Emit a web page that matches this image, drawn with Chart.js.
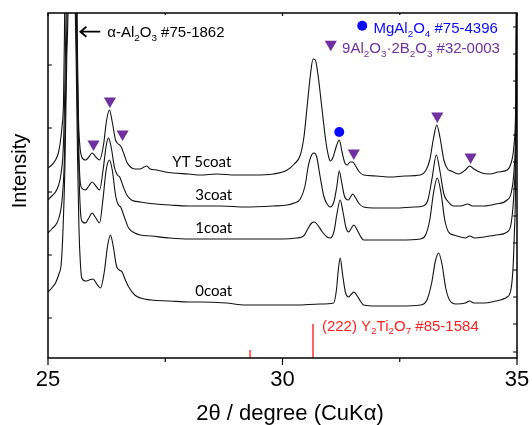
<!DOCTYPE html>
<html>
<head>
<meta charset="utf-8">
<script src="https://cdn.jsdelivr.net/npm/chart.js@4.4.1/dist/chart.umd.min.js"></script>
<style>
  html, body { margin: 0; padding: 0; background: #fff; }
  #wrap { width: 532px; height: 425px; }
</style>
</head>
<body>
<div id="wrap"><canvas id="xrd" width="532" height="425"></canvas></div>
<script>
// 2theta (deg) and stacked intensity (a.u.)
const tt5 = [25.00,25.08,25.16,25.22,25.26,25.30,25.33,25.35,25.37,25.50,25.61,25.63,25.65,25.68,25.72,25.80,25.87,25.94,26.02,26.10,26.18,26.25,26.31,26.37,26.44,26.50,26.55,26.62,26.68,26.76,26.85,26.96,27.05,27.10,27.18,27.32,27.50,27.67,28.00,28.25,28.60,29.00,29.40,29.80,30.10,30.25,30.38,30.46,30.53,30.60,30.65,30.70,30.76,30.84,30.92,30.98,31.02,31.08,31.15,31.21,31.27,31.33,31.38,31.44,31.50,31.56,31.64,31.73,32.00,32.30,32.60,32.94,33.05,33.14,33.22,33.29,33.36,33.44,33.52,33.60,33.75,33.90,33.99,34.08,34.25,34.43,34.60,34.79,34.88,34.94,34.98,35.00];
const yt5 = [190,193,198,205,215,232,255,320,420,1500,420,300,240,212,201,198,201,205,201,198,212,238,248,236,218,214,212,204,196,191,189,189,191,192,189,188,186,185,184,183,184,183,183,184,188,194,203,222,254,285,299,298,282,250,218,202,197,201,212,218,206,195,193,196,196,192,186,183,182,181,182,183,187,198,220,233,220,198,189,187,184,188,192,189,185,184,186,188,196,215,280,500];

const tt3 = [25.00,25.08,25.16,25.22,25.28,25.33,25.37,25.40,25.50,25.59,25.62,25.65,25.68,25.72,25.80,25.87,25.94,26.02,26.10,26.18,26.24,26.29,26.35,26.42,26.48,26.53,26.60,26.68,26.78,26.97,27.10,27.30,27.60,28.00,28.25,28.70,29.20,29.80,30.10,30.25,30.38,30.48,30.55,30.62,30.67,30.73,30.80,30.88,30.95,31.02,31.10,31.16,31.21,31.26,31.32,31.40,31.45,31.50,31.56,31.64,31.73,32.00,32.40,32.80,33.00,33.10,33.19,33.28,33.36,33.44,33.52,33.65,33.80,33.95,34.05,34.30,34.55,34.79,34.88,34.94,34.98,35.00];
const c3 = [158,162,166,172,185,215,300,420,1500,420,300,220,180,170,168,172,176,172,168,190,212,220,210,190,183,181,172,163,158,156,155,154,153,152,152,152,151,152,153,155,159,172,192,203,205,201,182,162,154,151,157,172,187,176,162,158,161,164,160,154,151,150,150,151,152,158,180,203,186,164,157,152,152,154,152,152,154,158,166,190,260,500];

const tt1 = [25.00,25.08,25.19,25.26,25.30,25.35,25.39,25.42,25.50,25.58,25.61,25.64,25.67,25.70,25.74,25.80,25.87,25.94,26.02,26.10,26.17,26.24,26.31,26.37,26.44,26.50,26.55,26.62,26.72,26.85,26.97,27.20,27.60,28.00,28.25,28.80,29.40,30.00,30.30,30.45,30.55,30.62,30.68,30.75,30.85,30.95,31.02,31.10,31.16,31.23,31.29,31.35,31.41,31.47,31.52,31.58,31.66,31.73,32.00,32.50,32.94,33.05,33.14,33.22,33.30,33.38,33.46,33.54,33.65,33.80,33.90,33.99,34.10,34.30,34.55,34.79,34.88,34.94,34.98,35.00];
const c1 = [125,129,135,145,158,200,300,420,1500,420,300,220,170,142,136,135,140,145,140,135,158,188,198,188,163,153,151,142,130,125,123,122,120,119,119,119,119,119,120,122,130,135,136,133,126,121,120,127,144,158,146,131,126,130,133,129,122,118,118,118,119,123,138,165,180,165,138,126,123,121,120,122,120,121,123,126,136,170,250,500];

const tt0 = [25.00,25.08,25.16,25.24,25.28,25.32,25.36,25.40,25.44,25.50,25.57,25.60,25.63,25.66,25.69,25.72,25.80,25.88,25.96,26.04,26.12,26.20,26.27,26.33,26.39,26.46,26.52,26.58,26.65,26.72,26.85,26.97,27.20,27.60,28.00,28.25,28.80,29.21,29.80,30.30,30.80,31.09,31.15,31.19,31.23,31.28,31.34,31.41,31.47,31.52,31.58,31.66,31.73,32.00,32.50,32.94,33.08,33.18,33.26,33.33,33.40,33.48,33.56,33.70,33.90,33.99,34.08,34.30,34.55,34.79,34.88,34.94,34.98,35.00];
const c0 = [66,70,75,85,93,128,190,300,420,1500,420,300,200,130,95,80,77,78,79,74,70,86,112,123,112,92,88,86,78,71,63,60,58,57,56,56,55,53,53,53,54,55,68,88,100,84,66,61,64,66,63,57,53,52,52,53,58,75,97,105,94,70,58,54,55,57,55,55,57,61,71,120,230,500];

const seriesNames = ['YT 5coat', '3coat', '1coat', '0coat'];

// phase markers
const boratePeaks = [25.97, 26.32, 26.59, 31.52, 33.30, 34.01];
const borateY     = [214, 257, 224, 205, 242, 201];
const spinelPeaks = [31.21];
const spinelY     = [226];

// Y2Ti2O7 reference sticks
const refPos = [29.31, 30.65];
const refInt = [8, 34];

// axis ticks
const xMajor = [25, 30, 35];
const xMinor = [27.5, 32.5];
const yLeftTicks  = [40, 103, 166, 230, 293];
const yRightTicks = [6, 34, 61, 88, 115, 142, 169, 196, 223, 250, 277, 304, 331];

const PURPLE = '#7030a0', BLUE = '#0a0aff', RED = '#ff2222', STICK = '#ff6464';
const ARIAL = "'Liberation Sans', Arial, sans-serif";
const LATO = "Lato, 'Liberation Sans', sans-serif";

const pairs = (xs, ys) => xs.map((x, i) => ({x: x, y: ys[i]}));

const curve = (xs, ys, name) => ({
  label: name,
  data: pairs(xs, ys),
  showLine: true,
  borderColor: '#111',
  borderWidth: 1.1,
  pointRadius: 0,
  cubicInterpolationMode: 'monotone'
});

const sticks = [];
refPos.forEach((p, i) => {
  sticks.push({x: p, y: 0}, {x: p, y: refInt[i]}, {x: p, y: null});
});

// rich text: parts starting with "_" are subscripts
function rich(ctx, x, y, parts, size, color) {
  ctx.fillStyle = color;
  ctx.textAlign = 'left';
  ctx.textBaseline = 'alphabetic';
  let cx = x;
  parts.forEach(p => {
    const sub = p[0] === '_';
    const t = sub ? p.slice(1) : p;
    ctx.font = (sub ? size * 0.66 : size) + 'px ' + ARIAL;
    ctx.fillText(t, cx, sub ? y + size * 0.24 : y);
    cx += ctx.measureText(t).width;
  });
}

function triangleDown(ctx, x, y, r, color) {
  ctx.fillStyle = color;
  ctx.beginPath();
  ctx.moveTo(x, y + r);
  ctx.lineTo(x - r * 0.866, y - r / 2);
  ctx.lineTo(x + r * 0.866, y - r / 2);
  ctx.closePath();
  ctx.fill();
}

const decor = {
  id: 'decor',
  afterDraw(chart) {
    const ctx = chart.ctx;
    const a = chart.chartArea;
    const xs = chart.scales.x, ys = chart.scales.y;
    const X = v => xs.getPixelForValue(v), Y = v => ys.getPixelForValue(v);
    ctx.save();

    // frame
    ctx.strokeStyle = '#000';
    ctx.lineWidth = 1.5;
    ctx.strokeRect(a.left, a.top, a.right - a.left, a.bottom - a.top);

    // ticks
    ctx.lineWidth = 1.2;
    ctx.beginPath();
    xMajor.forEach(v => {
      ctx.moveTo(X(v), a.bottom); ctx.lineTo(X(v), a.bottom + 7);
      ctx.moveTo(X(v), a.top); ctx.lineTo(X(v), a.top + 3);
    });
    xMinor.forEach(v => {
      ctx.moveTo(X(v), a.bottom); ctx.lineTo(X(v), a.bottom + 4);
      ctx.moveTo(X(v), a.top); ctx.lineTo(X(v), a.top + 2);
    });
    yLeftTicks.forEach(v => { ctx.moveTo(a.left, Y(v)); ctx.lineTo(a.left + 4, Y(v)); });
    yRightTicks.forEach(v => { ctx.moveTo(a.right, Y(v)); ctx.lineTo(a.right - 4, Y(v)); });
    ctx.stroke();

    // x tick labels
    ctx.fillStyle = '#000';
    ctx.font = '22px ' + ARIAL;
    ctx.textAlign = 'center';
    ctx.textBaseline = 'middle';
    xMajor.forEach(v => ctx.fillText(String(v), X(v), a.bottom + 22));

    // axis titles
    ctx.fillText('2θ / degree (CuKα)', 290, 414);
    ctx.save();
    ctx.translate(20, 171);
    ctx.rotate(-Math.PI / 2);
    ctx.font = '20px ' + ARIAL;
    ctx.fillText('Intensity', 0, 0);
    ctx.restore();

    // sample labels
    ctx.font = '15px ' + LATO;
    ctx.textAlign = 'left';
    ctx.textBaseline = 'alphabetic';
    ctx.fillStyle = '#000';
    ctx.fillText(seriesNames[0], X(27.65), Y(190.7));
    ctx.fillText(seriesNames[1], X(28.14), Y(158));
    ctx.fillText(seriesNames[2], X(28.14), Y(125.3));
    ctx.fillText(seriesNames[3], X(28.14), Y(62.3));

    // alpha-Al2O3 arrow + label
    const ay = Y(326.3), tip = X(25.69), tail = X(26.115);
    ctx.strokeStyle = '#000';
    ctx.lineWidth = 1.8;
    ctx.beginPath();
    ctx.moveTo(tail, ay); ctx.lineTo(tip + 1, ay);
    ctx.moveTo(tip + 6, ay - 5); ctx.lineTo(tip, ay); ctx.lineTo(tip + 6, ay + 5);
    ctx.stroke();
    rich(ctx, X(26.264), Y(320.7), ['α-Al', '_2', 'O', '_3', ' #75-1862'], 15, '#000');

    // phase legend
    ctx.fillStyle = BLUE;
    ctx.beginPath();
    ctx.arc(X(31.70), Y(332.2), 5, 0, Math.PI * 2);
    ctx.fill();
    rich(ctx, X(31.94), Y(324.7), ['MgAl', '_2', 'O', '_4', ' #75-4396'], 15, BLUE);
    triangleDown(ctx, X(31.03), Y(313.8), 7, PURPLE);
    rich(ctx, X(31.27), Y(304.7), ['9Al', '_2', 'O', '_3', '·', '2B', '_2', 'O', '_3', ' #32-0003'], 15, PURPLE);

    // Y2Ti2O7 label
    rich(ctx, X(30.84), Y(27.3), ['(222) Y', '_2', 'Ti', '_2', 'O', '_7', ' #85-1584'], 15, RED);

    ctx.restore();
  }
};

new Chart(document.getElementById('xrd'), {
  type: 'scatter',
  data: {
    datasets: [
      curve(tt5, yt5, seriesNames[0]),
      curve(tt3, c3, seriesNames[1]),
      curve(tt1, c1, seriesNames[2]),
      curve(tt0, c0, seriesNames[3]),
      {
        label: 'Y2Ti2O7',
        data: sticks,
        showLine: true,
        spanGaps: false,
        borderColor: STICK,
        borderWidth: 2,
        pointRadius: 0
      },
      {
        label: '9Al2O3·2B2O3',
        data: pairs(boratePeaks, borateY),
        pointStyle: 'triangle',
        rotation: 180,
        pointRadius: 7,
        backgroundColor: PURPLE,
        borderWidth: 0
      },
      {
        label: 'MgAl2O4',
        data: pairs(spinelPeaks, spinelY),
        pointStyle: 'circle',
        pointRadius: 5,
        backgroundColor: BLUE,
        borderWidth: 0
      }
    ]
  },
  options: {
    responsive: false,
    animation: false,
    events: [],
    layout: { padding: { top: 13, right: 15, left: 48, bottom: 0 } },
    plugins: { legend: { display: false }, tooltip: { enabled: false } },
    scales: {
      x: {
        type: 'linear',
        min: 25,
        max: 35,
        afterFit: s => { s.height = 67; },
        ticks: { display: false },
        grid: { display: false },
        border: { display: false }
      },
      y: {
        display: false,
        min: 0,
        max: 345
      }
    }
  },
  plugins: [decor]
});
</script>
</body>
</html>
